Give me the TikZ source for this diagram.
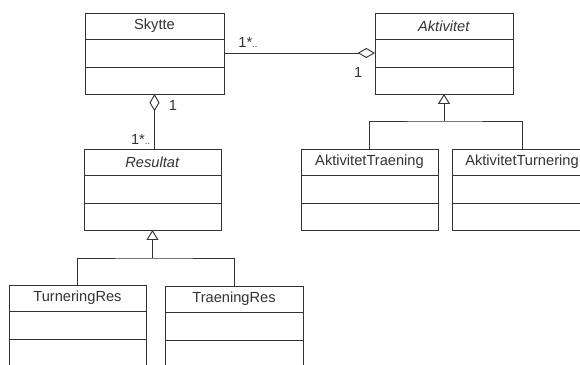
\documentclass[tikz,border=0pt]{standalone}
\usepackage{fontspec}
\setmainfont{Liberation Sans}
\usetikzlibrary{positioning,arrows.meta}
\definecolor{strek}{HTML}{333333}
\begin{document}
\begin{tikzpicture}[
  font=\fontsize{12.5}{15}\selectfont, color=strek, line width=0.8pt,
  hode/.style={draw, rectangle, anchor=north west, outer sep=0pt, inner sep=0pt, minimum height=0.78cm},
  felt/.style={draw, rectangle, outer sep=0pt, inner sep=0pt},
  ruter/.style={-{Diamond[open,length=0.52cm,width=0.3cm]}},
  arv/.style={-{Triangle[open,length=0.3cm,width=0.36cm]}}]
\useasboundingbox (0,0) rectangle (17.4,-10.95);
% Skytte
\node[hode, minimum width=4.17cm] (sk) at (2.55,-0.39) {Skytte};
\node[felt, minimum width=4.17cm, minimum height=0.84cm, below=0pt of sk] (sk1) {};
\node[felt, minimum width=4.17cm, minimum height=0.81cm, below=0pt of sk1] (sk2) {};
% Aktivitet
\node[hode, minimum width=4.14cm] (ak) at (11.25,-0.39) {\textit{Aktivitet}};
\node[felt, minimum width=4.14cm, minimum height=0.84cm, below=0pt of ak] (ak1) {};
\node[felt, minimum width=4.14cm, minimum height=0.81cm, below=0pt of ak1] (ak2) {};
% Resultat
\node[hode, minimum width=4.11cm] (re) at (2.52,-4.47) {\textit{Resultat}};
\node[felt, minimum width=4.11cm, minimum height=0.84cm, below=0pt of re] (re1) {};
\node[felt, minimum width=4.11cm, minimum height=0.81cm, below=0pt of re1] (re2) {};
% AktivitetTraening
\node[hode, minimum width=4.11cm] (at) at (9.03,-4.47) {AktivitetTraening};
\node[felt, minimum width=4.11cm, minimum height=0.84cm, below=0pt of at] (at1) {};
\node[felt, minimum width=4.11cm, minimum height=0.81cm, below=0pt of at1] (at2) {};
% AktivitetTurnering
\node[hode, minimum width=4.2cm] (au) at (13.56,-4.47) {AktivitetTurnering};
\node[felt, minimum width=4.2cm, minimum height=0.84cm, below=0pt of au] (au1) {};
\node[felt, minimum width=4.2cm, minimum height=0.81cm, below=0pt of au1] (au2) {};
% TurneringRes
\node[hode, minimum width=4.11cm] (tr) at (0.27,-8.55) {TurneringRes};
\node[felt, minimum width=4.11cm, minimum height=0.84cm, below=0pt of tr] (tr1) {};
\node[felt, minimum width=4.11cm, minimum height=0.81cm, below=0pt of tr1] (tr2) {};
% TraeningRes
\node[hode, minimum width=4.14cm] (tn) at (4.95,-8.58) {TraeningRes};
\node[felt, minimum width=4.14cm, minimum height=0.84cm, below=0pt of tn] (tn1) {};
\node[felt, minimum width=4.14cm, minimum height=0.81cm, below=0pt of tn1] (tn2) {};
% Skytte -- Aktivitet
\draw[ruter] (sk1.east) -- (ak1.west);
\node[above right=0.02cm and 0.3cm of sk1.east] (m1) {1*{\footnotesize..}};
\node[below left=0.3cm and 0.25cm of ak1.west] (m2) {1};
% Skytte -- Resultat
\coordinate (rt) at (sk2.south |- re.north);
\draw[ruter] (rt) -- (sk2.south);
\node[below right=0.05cm and 0.3cm of sk2.south] (m3) {1};
\node[above left=0cm and 0cm of rt] (m4) {1*{\footnotesize..}};
% arv
\coordinate[below=0.84cm of re2.south] (rg);
\draw (tr.north) |- (rg) -| (tn.north);
\draw[arv] (rg) -- (re2.south);
\coordinate[below=0.81cm of ak2.south] (ag);
\draw (at.north) |- (ag) -| (au.north);
\draw[arv] (ag) -- (ak2.south);
\end{tikzpicture}
\end{document}
